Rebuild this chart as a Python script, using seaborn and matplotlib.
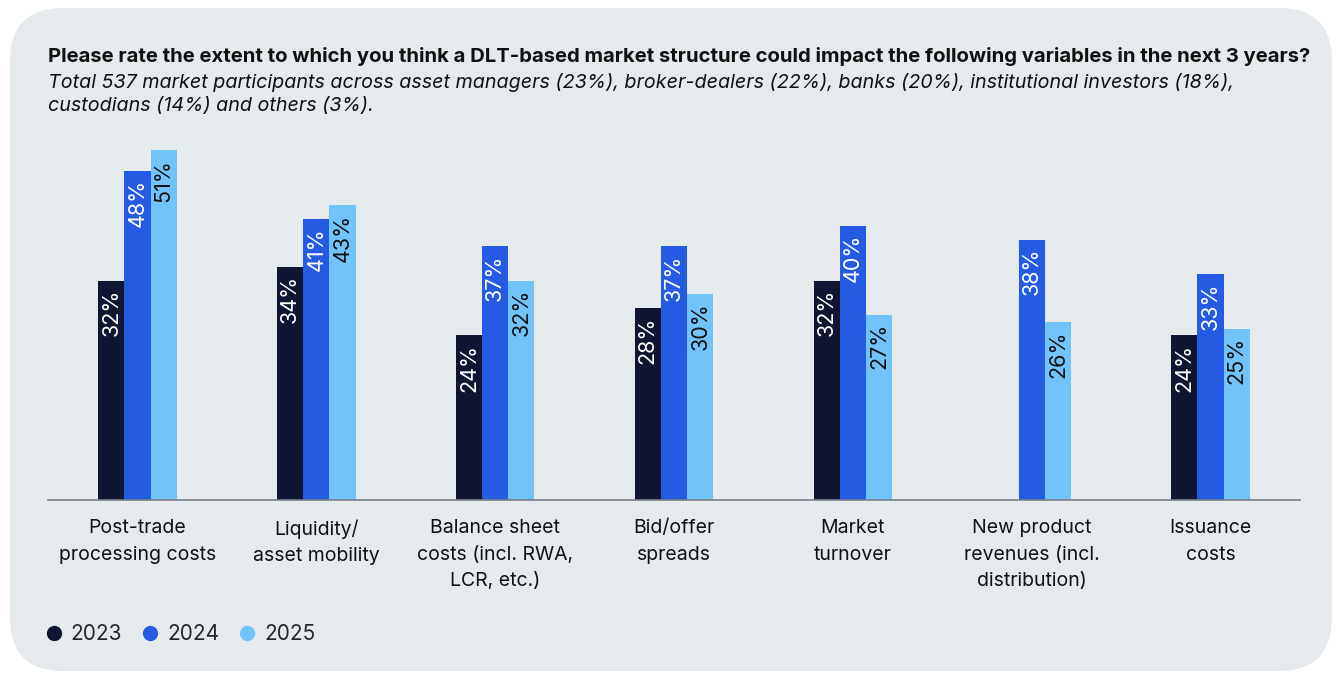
import numpy as np
import pandas as pd
import matplotlib
matplotlib.use("Agg")
import matplotlib.pyplot as plt
from matplotlib.patches import FancyBboxPatch
from matplotlib.lines import Line2D
import seaborn as sns

# Data
categories = [
    "Post-trade\nprocessing costs",
    "Liquidity/\nasset mobility",
    "Balance sheet\ncosts (incl. RWA,\nLCR, etc.)",
    "Bid/offer\nspreads",
    "Market\nturnover",
    "New product\nrevenues (incl.\ndistribution)",
    "Issuance\ncosts",
]
years = ["2023", "2024", "2025"]
values_2023 = [32, 34, 24, 28, 32, np.nan, 24]
values_2024 = [48, 41, 37, 37, 40, 38, 33]
values_2025 = [51, 43, 32, 30, 27, 26, 25]

colors = {"2023": "#101631", "2024": "#255BE3", "2025": "#73C3FB"}
label_colors = {"2023": "white", "2024": "white", "2025": "#111111"}
bg = "#E5EAED"

rows = []
for year, vals in zip(years, [values_2023, values_2024, values_2025]):
    for cat, v in zip(categories, vals):
        rows.append({"category": cat, "year": year, "value": v})
df = pd.DataFrame(rows)

sns.set_theme(style="white")
plt.rcParams["font.family"] = ["Inter", "DejaVu Sans"]

fig = plt.figure(figsize=(13.38, 6.75), dpi=100)
fig.patch.set_facecolor("white")

# rounded background panel
panel = FancyBboxPatch((10 / 1338, 4 / 675), 1322 / 1338, 663 / 675,
                       boxstyle="round,pad=0,rounding_size=0.04",
                       transform=fig.transFigure, facecolor=bg,
                       edgecolor="none", zorder=-10, mutation_aspect=1338 / 675)
fig.patches.append(panel)

ax = fig.add_axes([48 / 1338, 175 / 675, 1252 / 1338, 377 / 675])
ax.set_facecolor("none")
ax.set_zorder(1)

sns.barplot(data=df, x="category", y="value", hue="year", order=categories,
            hue_order=years, palette=colors, width=0.44, saturation=1,
            edgecolor="none", ax=ax, legend=False)

ax.set_xlim(-0.5, len(categories) - 0.5)
ax.set_ylim(0, 55)

# value labels inside bars, rotated
for container, year in zip(ax.containers, years):
    for bar in container:
        h = bar.get_height()
        if np.isnan(h) or h == 0:
            continue
        ax.text(bar.get_x() + bar.get_width() / 2, h - 1.2, f"{int(h)}%",
                rotation=90, ha="center", va="top", fontsize=15.5,
                color=label_colors[year])

for side in ["top", "right", "left"]:
    ax.spines[side].set_visible(False)
ax.spines["bottom"].set_color("#7A7F8A")
ax.spines["bottom"].set_linewidth(1.2)
ax.set_yticks([])
ax.set_xlabel("")
ax.set_ylabel("")
ax.tick_params(axis="x", length=0, pad=14, labelsize=14, colors="#111111")
for lbl in ax.get_xticklabels():
    lbl.set_linespacing(1.6)
    lbl.set_va("top")

# title and subtitle
fig.text(48 / 1338, 1 - 56 / 675,
         "Please rate the extent to which you think a DLT-based market structure could impact the following variables in the next 3 years?",
         fontsize=14.6, fontweight="bold", color="#111111", va="center")
fig.text(48 / 1338, 1 - 94 / 675,
         "Total 537 market participants across asset managers (23%), broker-dealers (22%), banks (20%), institutional investors (18%),\ncustodians (14%) and others (3%).",
         fontsize=14.2, style="italic", color="#111111", va="center",
         linespacing=1.3)

# legend
handles = [Line2D([0], [0], marker="o", linestyle="none", markersize=11,
                  markerfacecolor=colors[y], markeredgecolor="none") for y in years]
fig.legend(handles, years, loc="center left",
           bbox_to_anchor=(25 / 1338, 1 - 634 / 675), ncol=3, frameon=False,
           fontsize=15, handletextpad=0.3, columnspacing=0.85,
           handlelength=1.0)

fig.savefig("out.png", dpi=100, facecolor=fig.get_facecolor())
